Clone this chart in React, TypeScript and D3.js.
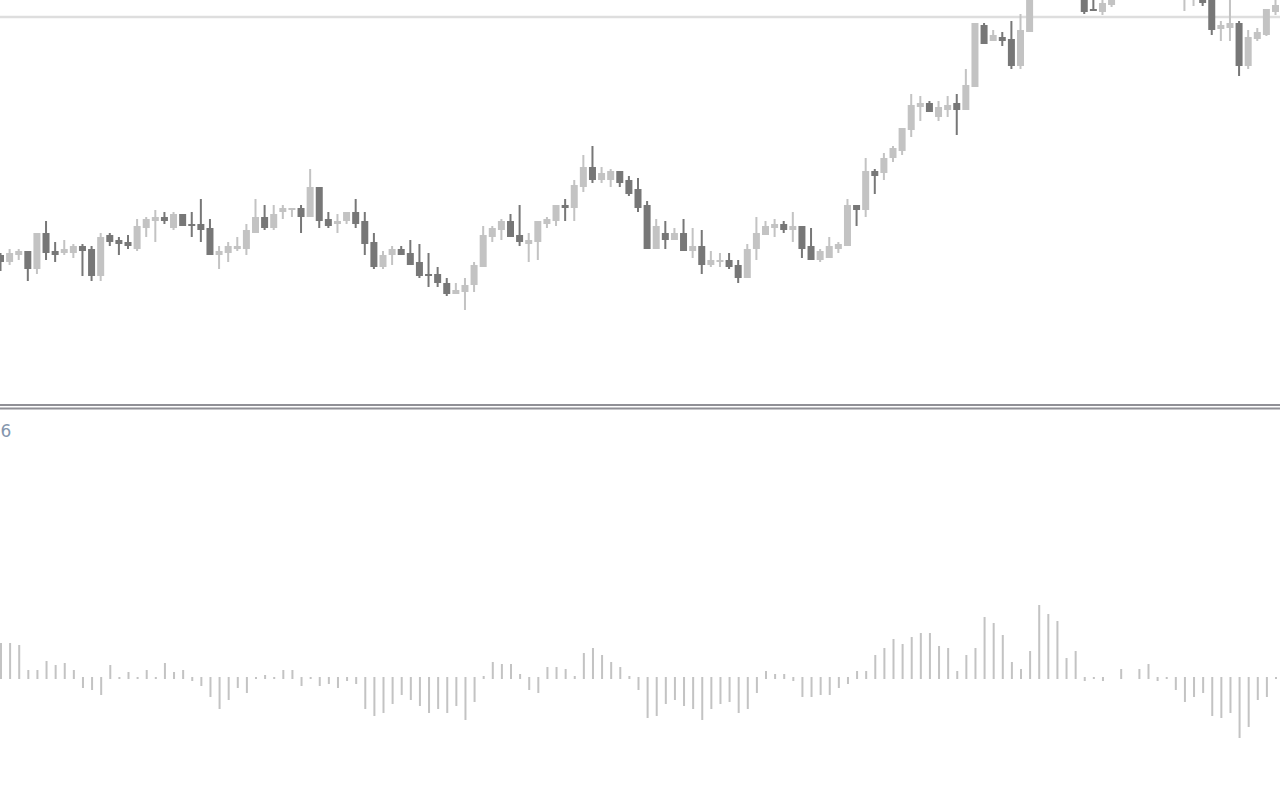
import React, { useEffect, useRef } from "react";
import * as d3 from "d3";

// Candle OHLC values (price units), index = bar number
const opens = [145,138,145,149,131,167,149,147,147,154,151,124,165,160,158,151,172,179,183,172,186,176,176,172,145,147,151,151,167,183,172,188,190,192,183,213,181,176,179,188,179,158,133,145,151,147,138,126,126,117,106,108,115,133,163,170,179,165,156,158,176,179,195,192,213,233,220,220,229,220,211,195,151,167,160,167,149,154,135,138,140,135,122,151,165,172,176,170,174,154,140,142,151,154,195,190,229,227,242,249,270,293,297,283,290,297,290,313,375,359,363,361,334,368,430,420,438,430,412,420,391,388,395,406,418,438,425,445,432,422,403,404,406,410,371,372,377,334,361,365,388];
const highs = [147,151,151,149,167,179,158,160,156,156,154,167,167,163,165,181,183,190,188,188,186,188,201,181,154,158,163,176,201,195,195,195,192,195,231,213,188,186,188,201,188,167,149,154,154,160,156,147,133,122,117,122,138,174,174,181,186,195,167,179,183,195,201,220,245,254,233,231,229,224,222,199,181,179,172,181,172,170,149,147,147,140,156,183,179,181,179,188,174,172,151,163,158,201,195,242,231,247,254,272,306,304,299,299,304,306,331,377,377,370,368,379,386,418,445,455,450,440,435,428,415,405,410,428,445,450,455,452,440,430,418,420,410,414,379,405,379,370,372,391,403];
const lows = [129,135,140,119,126,140,138,145,142,124,119,119,154,145,151,149,163,158,176,170,174,163,158,145,131,138,149,145,167,170,170,181,183,167,183,172,172,167,176,172,145,131,131,135,145,135,122,113,113,104,106,90,108,133,158,160,163,154,138,140,172,174,179,179,208,217,217,213,213,204,188,151,151,151,160,149,142,126,133,133,131,117,122,140,165,163,167,158,142,140,138,142,147,154,174,183,206,220,238,245,263,279,288,279,283,265,290,313,356,359,354,331,331,368,408,412,410,406,404,386,389,385,393,403,412,414,418,422,412,404,389,394,394,365,359,359,324,331,359,364,385];
const closes = [138,147,149,131,167,147,145,151,154,149,124,163,158,156,154,174,181,183,179,186,174,174,170,145,149,154,154,170,183,172,186,192,192,183,213,179,174,179,188,176,156,133,145,151,145,135,124,124,117,106,110,115,135,165,172,179,163,158,160,179,181,195,192,215,233,220,227,229,217,206,192,151,174,160,167,149,154,135,140,140,133,122,151,167,174,176,170,174,151,140,149,154,156,195,190,229,224,242,252,272,295,297,288,293,295,290,315,377,356,365,359,334,370,410,415,440,422,415,428,388,389,397,403,420,435,422,445,430,420,408,412,414,397,370,375,377,334,363,368,391,395];

// Oscillator histogram values (indicator units)
const histValues = [35,35,33,8,8,17,13,15,8,-10,-12,-17,13,1,6,1,8,1,15,6,8,-3,-8,-19,-31,-22,-10,-15,1,3,1,8,8,-8,-1,-8,-6,-10,-3,-6,-31,-38,-35,-26,-17,-22,-28,-35,
  -31,-35,-28,-42,-24,2,16,14,14,4,-12,-15,11,11,9,2,25,30,23,16,11,2,-12,-40,-38,-26,-22,-28,-31,-42,-31,-26,-24,-35,-31,-15,7,4,4,-3,-19,-19,-17,-17,-10,-6,
  7,7,23,30,39,34,41,45,45,32,30,7,23,30,61,55,43,16,9,27,73,64,57,20,27,-3,-1,-3,0,9,0,9,14,-3,-1,-12,-24,-19,-15,-38,-40,-35,-60,-49,-22,-19,-1];

const levelPrice = 383; // horizontal level line
const indicatorLabel = "6";

const W = 1280;
const H = 800;

export default function App() {
  const ref = useRef<SVGSVGElement | null>(null);

  useEffect(() => {
    const svg = d3.select(ref.current);
    svg.selectAll("*").remove();

    const n = opens.length;
    const x = d3.scaleLinear().domain([0, n - 1]).range([0.5, 1275.5]);
    const y = d3.scaleLinear().domain([0, 400]).range([400, 0]);
    const yh = d3.scaleLinear().domain([-100, 100]).range([778, 578]);

    svg.append("rect").attr("x", 0).attr("y", 0).attr("width", W).attr("height", H).attr("fill", "#ffffff");

    // level line
    svg.append("rect")
      .attr("x", 0).attr("width", W)
      .attr("y", y(levelPrice) - 1.25).attr("height", 2.5)
      .attr("fill", "#dedede");

    const bull = "#c3c3c3";
    const bear = "#777777";
    const idx = d3.range(n);

    const g = svg.append("g");
    // wicks
    g.selectAll("rect.wick").data(idx).enter().append("rect")
      .attr("class", "wick")
      .attr("x", (i) => x(i) - 1)
      .attr("width", 2)
      .attr("y", (i) => y(highs[i]))
      .attr("height", (i) => Math.max(1, y(lows[i]) - y(highs[i])))
      .attr("fill", (i) => (closes[i] >= opens[i] ? bull : bear));
    // bodies
    g.selectAll("rect.body").data(idx).enter().append("rect")
      .attr("class", "body")
      .attr("x", (i) => x(i) - 3.5)
      .attr("width", 7)
      .attr("y", (i) => y(Math.max(opens[i], closes[i])))
      .attr("height", (i) => Math.max(1.5, Math.abs(y(opens[i]) - y(closes[i]))))
      .attr("fill", (i) => (closes[i] >= opens[i] ? bull : bear));

    // panel separator
    svg.append("rect").attr("x", 0).attr("width", W).attr("y", 404).attr("height", 2).attr("fill", "#909096");
    svg.append("rect").attr("x", 0).attr("width", W).attr("y", 407.5).attr("height", 2).attr("fill", "#909096");

    // indicator label (cut at left edge)
    svg.append("text")
      .attr("x", 0.5).attr("y", 437)
      .attr("font-family", "DejaVu Sans, sans-serif")
      .attr("font-size", 17)
      .attr("fill", "#8596ae")
      .text(indicatorLabel);

    // histogram
    const z = yh(0);
    svg.append("g").selectAll("rect").data(idx.filter((i) => histValues[i] !== 0)).enter().append("rect")
      .attr("x", (i) => x(i) - 0.5)
      .attr("width", 2)
      .attr("y", (i) => (histValues[i] > 0 ? yh(histValues[i]) : z - 1))
      .attr("height", (i) => (histValues[i] > 0 ? z + 1 - yh(histValues[i]) : yh(histValues[i]) - z + 1))
      .attr("fill", "#c3c3c3");
  }, []);

  return (
    <svg
      ref={ref}
      width={W}
      height={H}
      style={{ position: "fixed", left: 0, top: 0, display: "block" }}
    />
  );
}
